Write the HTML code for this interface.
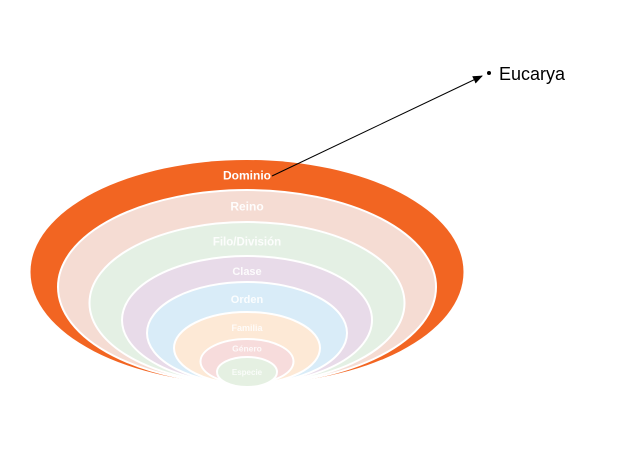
<!DOCTYPE html>
<html><head><meta charset="utf-8"><style>
html,body{margin:0;padding:0;background:#fff;width:643px;height:450px;overflow:hidden}
svg{display:block}
text{font-family:"Liberation Sans",Arial,sans-serif}
</style></head><body>
<svg id="chart" width="643" height="450" viewBox="0 0 643 450">
<defs><marker id="ah" markerWidth="10" markerHeight="8" refX="9" refY="4" orient="auto" markerUnits="userSpaceOnUse"><path d="M0,0 L10,4 L0,8 z" fill="#000"/></marker></defs>
</svg>
<script>
const levels=["Dominio","Reino","Filo/División","Clase","Orden","Familia","Género","Especie"];
const colors=["#f26522","#f5dcd3","#e4f0e4","#e8dbe9","#d9ecf8","#fde9d6","#f7dcdc","#e5f0e2"];
const halfWidths=[216.5,189,157.5,125,100,73,46.5,30];
const halfHeights=[112,97,81,64,51,36,22.5,15];
const fontSizes=[12,12,11.5,11,11,9,8.5,8];
const labelOpacity=[1,0.95,0.9,0.9,0.9,0.85,0.85,0.8];
const annotation="Eucarya";
const svg=document.getElementById('chart');
const NS="http://www.w3.org/2000/svg";
const cx=247, bottom=384;
levels.forEach((name,i)=>{
  const g=document.createElementNS(NS,'g');
  
  
  const e=document.createElementNS(NS,'ellipse');
  const cy=bottom-halfHeights[i]+(i===7?3:0);
  e.setAttribute('cx',cx);e.setAttribute('cy',cy);
  e.setAttribute('rx',halfWidths[i]);e.setAttribute('ry',halfHeights[i]);
  e.setAttribute('fill',colors[i]);
  e.setAttribute('stroke',i===0?'none':'#fff');e.setAttribute('stroke-width',2);
  
  
  g.appendChild(e);
  const t=document.createElementNS(NS,'text');
  const top=cy-halfHeights[i];
  let ly;
  if(i===7){ly=cy+fontSizes[i]*0.38;}
  else{
    const nextTop=bottom-2*halfHeights[i+1];
    ly=(top+nextTop)/2+fontSizes[i]*0.38+(i>=2?2:0);
  }
  t.setAttribute('x',cx);t.setAttribute('y',ly);
  t.setAttribute('text-anchor','middle');t.setAttribute('font-weight','bold');
  t.setAttribute('font-size',fontSizes[i]);t.setAttribute('fill','#fff');
  t.setAttribute('opacity',labelOpacity[i]);
  t.textContent=name;
  
  
  g.appendChild(t);
  svg.appendChild(g);
});
const ln=document.createElementNS(NS,'line');
ln.setAttribute('x1',272);ln.setAttribute('y1',176);ln.setAttribute('x2',482);ln.setAttribute('y2',76);
ln.setAttribute('stroke','#000');ln.setAttribute('stroke-width',1);ln.setAttribute('marker-end','url(#ah)');


svg.appendChild(ln);
const dot=document.createElementNS(NS,'circle');
dot.setAttribute('cx',489);dot.setAttribute('cy',73);dot.setAttribute('r',2);dot.setAttribute('fill','#000');


svg.appendChild(dot);
const at=document.createElementNS(NS,'text');
at.setAttribute('x',499);at.setAttribute('y',80);at.setAttribute('font-size',18);at.setAttribute('fill','#000');
at.textContent=annotation;


svg.appendChild(at);
</script>
</body></html>
